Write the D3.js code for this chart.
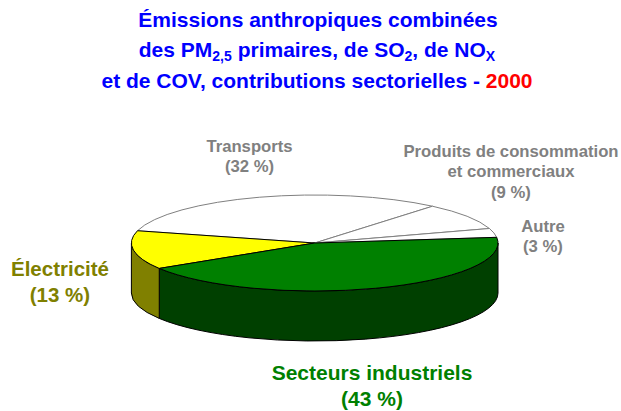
<!DOCTYPE html>
<html>
<head>
<meta charset="utf-8">
<script src="https://cdn.jsdelivr.net/npm/d3@7"></script>
<style>
  body { margin: 0; background: #fff; }
  text { font-family: "Liberation Sans", Arial, sans-serif; font-weight: bold; }
</style>
</head>
<body>
<svg id="chart" width="621" height="411"></svg>
<script>
const sectors = ["Secteurs industriels", "Électricité", "Transports", "Produits de consommation et commerciaux", "Autre"];
const shares = [43, 13, 32, 9, 3];
const labelLines = [["Secteurs industriels"], ["Électricité"], ["Transports"], ["Produits de consommation", "et commerciaux"], ["Autre"]];
const topColors = ["#008000", "#ffff00", "#ffffff", "#ffffff", "#ffffff"];
const sideColors = ["#004000", "#808000", "#ffffff", "#ffffff", "#ffffff"];
const edgeColors = ["#000000", "#000000", "#808080", "#808080", "#808080"];
const labelColors = ["#008000", "#808000", "#808080", "#808080", "#808080"];

const svg = d3.select("#chart");
const cx = 314.7, cy = 243, rx = 183.3, ry = 48, depth = 50;

// title
const title = svg.append("g").attr("fill", "#0000ff").attr("font-size", 21).attr("text-anchor", "middle");
title.append("text").attr("x", 318).attr("y", 26.5).text("Émissions anthropiques combinées");
const t2 = title.append("text").attr("x", 317).attr("y", 57);
t2.append("tspan").text("des PM");
t2.append("tspan").attr("font-size", 14).attr("dy", 4).text("2,5");
t2.append("tspan").attr("dy", -4).text(" primaires, de SO");
t2.append("tspan").attr("font-size", 14).attr("dy", 4).text("2");
t2.append("tspan").attr("dy", -4).text(", de NO");
t2.append("tspan").attr("font-size", 14).attr("dy", 4).text("X");
const t3 = title.append("text").attr("x", 317).attr("y", 87.5);
t3.append("tspan").text("et de COV, contributions sectorielles - ");
t3.append("tspan").attr("fill", "#ff0000").text("2000");

// pie geometry (d3 angles: 0 at top, clockwise)
const pie = d3.pie().sort(null)
  .startAngle(83.2 * Math.PI / 180)
  .endAngle(83.2 * Math.PI / 180 + 2 * Math.PI);
const arcs = pie(shares);

const px = a => cx + rx * Math.sin(a);
const py = a => cy - ry * Math.cos(a);

function sidePath(a0, a1) {
  return `M${px(a0)},${py(a0)} A${rx},${ry} 0 0 1 ${px(a1)},${py(a1)}` +
    ` L${px(a1)},${py(a1) + depth} A${rx},${ry} 0 0 0 ${px(a0)},${py(a0) + depth} Z`;
}
function topPath(a0, a1) {
  const large = a1 - a0 > Math.PI ? 1 : 0;
  return `M${cx},${cy} L${px(a0)},${py(a0)} A${rx},${ry} 0 ${large} 1 ${px(a1)},${py(a1)} Z`;
}

// front walls: only the part between 90° and 270° faces the viewer
const lo = Math.PI / 2, hi = 3 * Math.PI / 2;
arcs.forEach((d, i) => {
  [0, 2 * Math.PI].forEach(off => {
    const s = Math.max(d.startAngle - off, lo), e = Math.min(d.endAngle - off, hi);
    if (e > s) {
      svg.append("path")
        .attr("d", sidePath(s, e))
        .attr("fill", sideColors[i])
        .attr("stroke", edgeColors[i])
        .attr("stroke-width", 1)
        .attr("stroke-linejoin", "round");
    }
  });
});

// top faces: white ones first so the dark outlines stay on top
const order = [2, 3, 4, 1, 0];
order.forEach(i => {
  const d = arcs[i];
  svg.append("path")
    .attr("d", topPath(d.startAngle, d.endAngle))
    .attr("fill", topColors[i])
    .attr("stroke", edgeColors[i])
    .attr("stroke-width", 1)
    .attr("stroke-linejoin", "round");
});

// labels
const labelPos = [
  { x: 372, y: 380, size: 21 },
  { x: 60, y: 276, size: 20.5 },
  { x: 249.5, y: 151.5, size: 16.7 },
  { x: 511, y: 156.5, size: 16.7 },
  { x: 543, y: 231.5, size: 16.7 }
];
arcs.forEach((d, i) => {
  const p = labelPos[i];
  const lines = labelLines[i].concat([`(${shares[i]} %)`]);
  const lh = p.size * 1.25;
  const t = svg.append("text")
    .attr("text-anchor", "middle")
    .attr("font-size", p.size)
    .attr("fill", labelColors[i]);
  lines.forEach((ln, k) => {
    t.append("tspan").attr("x", p.x).attr("y", p.y + k * lh).text(ln);
  });
});
</script>
</body>
</html>
